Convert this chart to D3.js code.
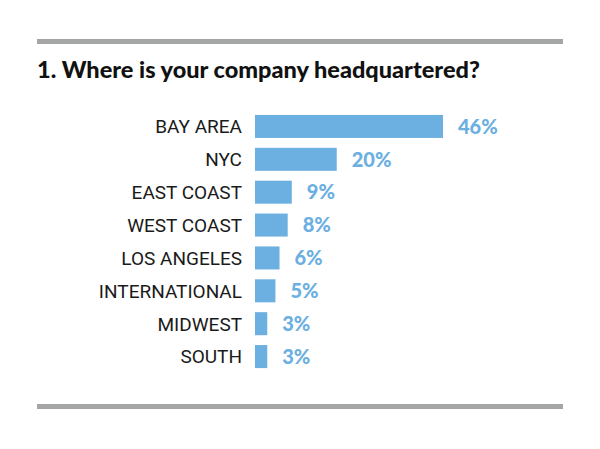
<!DOCTYPE html>
<html><head><meta charset="utf-8">
<script src="https://cdn.jsdelivr.net/npm/d3@7"></script>
<style>body{margin:0;background:#fff}</style>
</head><body>
<svg id="svg" width="600" height="449"></svg>
<script>
var regions = ["BAY AREA","NYC","EAST COAST","WEST COAST","LOS ANGELES","INTERNATIONAL","MIDWEST","SOUTH"];
var shares = [46,20,9,8,6,5,3,3];

var svg = d3.select("#svg");

// Règles grises
svg.append("rect").attr("x",37).attr("y",39).attr("width",526).attr("height",5).attr("fill","#a3a6a5");
svg.append("rect").attr("x",37).attr("y",404).attr("width",526).attr("height",5).attr("fill","#a3a6a5");

// Titre
svg.append("text").attr("x",37).attr("y",78)
  .style("font-family","Lato, 'Open Sans', sans-serif").style("font-weight","900").style("font-size","23.5px")
  .attr("fill","#111").text("1. Where is your company headquartered?");

var scaleY = d3.scaleBand().domain(regions).range([110,373]).paddingInner(0.3).paddingOuter(0.15);
var scaleX = d3.scaleLinear().domain([0,46]).range([255,443]);

svg.selectAll(".bar").data(regions).enter().append("rect")
  .attr("x", scaleX(0))
  .attr("y", function(d){ return scaleY(d); })
  .attr("width", function(d,i){ return scaleX(shares[i]) - scaleX(0); })
  .attr("height", scaleY.bandwidth())
  .attr("fill", "#6cafe1");

svg.selectAll(".lab").data(regions).enter().append("text")
  .attr("x", 242)
  .attr("y", function(d){ return scaleY(d) + scaleY.bandwidth()/2; })
  .attr("dy","0.36em").attr("text-anchor","end")
  .style("font-family","Roboto, sans-serif").style("font-size","19px")
  .attr("fill","#1a1a1a").text(function(d){ return d; });

svg.selectAll(".val").data(regions).enter().append("text")
  .attr("x", function(d,i){ return scaleX(shares[i]) + 15; })
  .attr("y", function(d){ return scaleY(d) + scaleY.bandwidth()/2; })
  .attr("dy","0.36em")
  .style("font-family","Lato, 'Open Sans', sans-serif").style("font-weight","900").style("font-size","20px")
  .attr("fill","#6cafe1").text(function(d,i){ return shares[i] + "%"; });
</script>
</body></html>
